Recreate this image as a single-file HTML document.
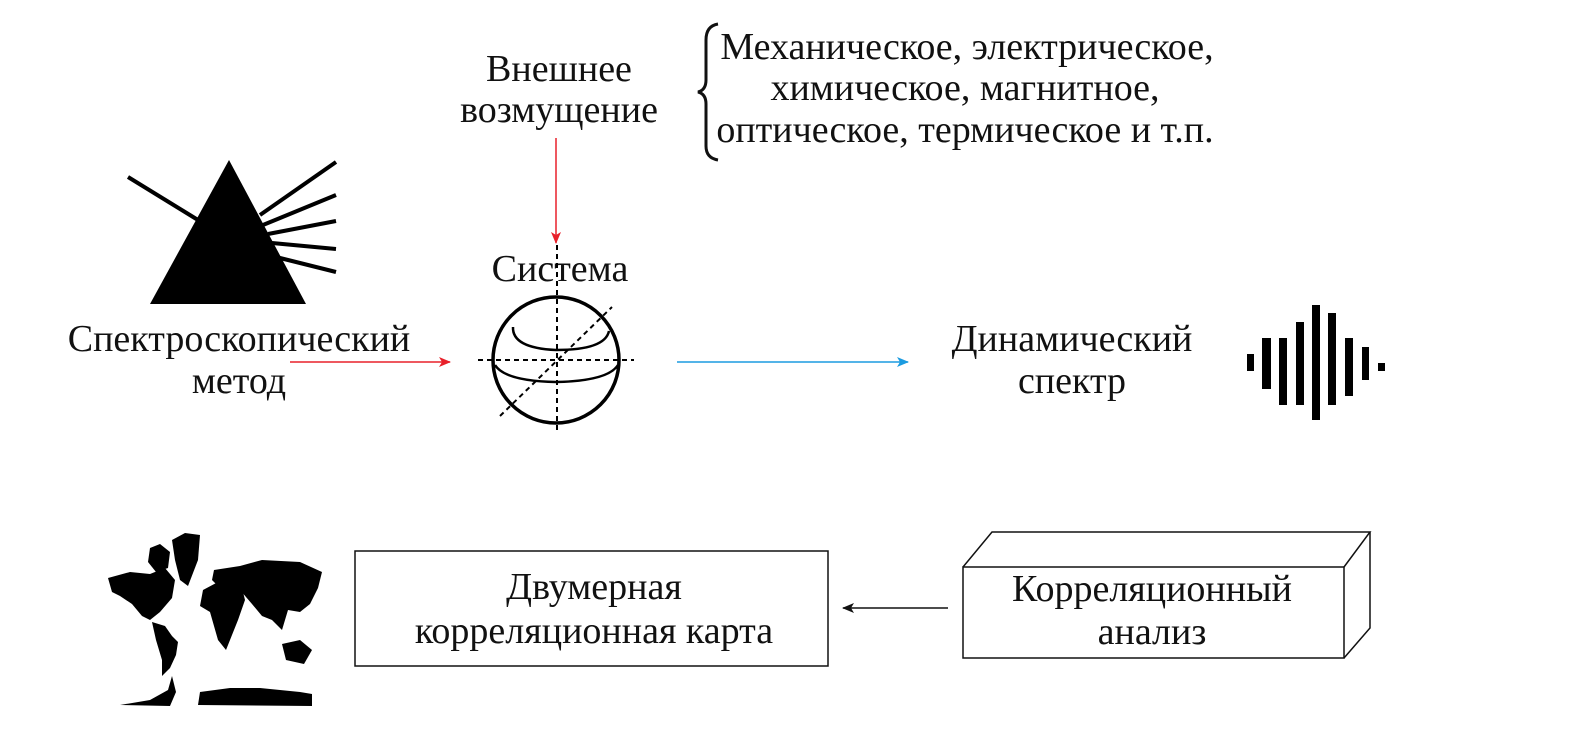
<!DOCTYPE html>
<html><head><meta charset="utf-8"><style>
body{margin:0;background:#fff;}
svg{display:block;}
text{font-family:"Liberation Serif",serif;font-size:38px;fill:#111;}
</style></head><body>
<svg width="1577" height="756" viewBox="0 0 1577 756" xmlns="http://www.w3.org/2000/svg">
<defs>
<marker id="ar" markerWidth="12" markerHeight="10" refX="11" refY="5" orient="auto" markerUnits="userSpaceOnUse"><path d="M0,0 L12,5 L0,10 L3,5 Z" fill="#e8202a"/></marker>
<marker id="ab" markerWidth="12" markerHeight="10" refX="11" refY="5" orient="auto" markerUnits="userSpaceOnUse"><path d="M0,0 L12,5 L0,10 L3,5 Z" fill="#1b9be0"/></marker>
<marker id="ak" markerWidth="12" markerHeight="10" refX="11" refY="5" orient="auto" markerUnits="userSpaceOnUse"><path d="M0,0 L12,5 L0,10 L3,5 Z" fill="#111"/></marker>
</defs>
<g text-anchor="middle">
<text x="559" y="81">Внешнее</text>
<text x="559" y="122">возмущение</text>
<text x="967" y="59">Механическое, электрическое,</text>
<text x="965" y="100">химическое, магнитное,</text>
<text x="965" y="142">оптическое, термическое и т.п.</text>
<text x="560" y="281">Система</text>
<text x="239" y="351">Спектроскопический</text>
<text x="239" y="393">метод</text>
<text x="1072" y="351">Динамический</text>
<text x="1072" y="393">спектр</text>
<text x="594" y="599">Двумерная</text>
<text x="594" y="643">корреляционная карта</text>
<text x="1152" y="601">Корреляционный</text>
<text x="1152" y="644">анализ</text>
</g>
<path d="M718,24 Q706,26 706,40 L706,80 Q706,90 698,92 Q706,94 706,104 L706,146 Q706,158 718,160" fill="none" stroke="#111" stroke-width="3"/>
<line x1="556" y1="138" x2="556" y2="243" stroke="#e8202a" stroke-width="1.5" marker-end="url(#ar)"/>
<line x1="290" y1="362" x2="450" y2="362" stroke="#e8202a" stroke-width="1.5" marker-end="url(#ar)"/>
<line x1="677" y1="362" x2="908" y2="362" stroke="#1b9be0" stroke-width="1.5" marker-end="url(#ab)"/>
<line x1="948" y1="608" x2="843" y2="608" stroke="#111" stroke-width="1.5" marker-end="url(#ak)"/>
<polygon points="229,160 150,304 306,304" fill="#000"/>
<line x1="128" y1="177" x2="198" y2="220" stroke="#000" stroke-width="4"/>
<g stroke="#000" stroke-width="4">
<line x1="260" y1="215" x2="336" y2="162"/>
<line x1="263" y1="225" x2="336" y2="195"/>
<line x1="268" y1="234" x2="336" y2="221"/>
<line x1="272" y1="243" x2="336" y2="249"/>
<line x1="276" y1="257" x2="336" y2="272"/>
</g>
<circle cx="556" cy="360" r="63" fill="none" stroke="#000" stroke-width="3.5"/>
<path d="M513,327 Q512,348 556,350 Q605,350 609,331" fill="none" stroke="#000" stroke-width="2.5"/>
<path d="M495,365 Q505,381 556,382 Q608,381 618,365" fill="none" stroke="#000" stroke-width="2.5"/>
<g stroke="#000" stroke-width="2" stroke-dasharray="5,4">
<line x1="557" y1="245" x2="557" y2="434"/>
<line x1="478" y1="360" x2="634" y2="360"/>
<line x1="500" y1="416" x2="612" y2="307"/>
</g>
<g fill="#000">
<rect x="1247" y="354" width="7" height="17"/>
<rect x="1262" y="338" width="9" height="51"/>
<rect x="1279" y="338" width="8" height="67"/>
<rect x="1296" y="322" width="8" height="83"/>
<rect x="1312" y="305" width="8" height="115"/>
<rect x="1328" y="313" width="8" height="92"/>
<rect x="1345" y="338" width="8" height="58"/>
<rect x="1362" y="347" width="7" height="33"/>
<rect x="1378" y="363" width="7" height="8"/>
</g>
<rect x="355" y="551" width="473" height="115" fill="none" stroke="#111" stroke-width="1.5"/>
<g fill="none" stroke="#111" stroke-width="1.5">
<rect x="963" y="567" width="381" height="91"/>
<polyline points="963,567 992,532 1370,532 1344,567"/>
<polyline points="1370,532 1370,628 1344,658"/>
</g>
<g fill="#000">
<path d="M108,578 L130,572 L150,574 L165,568 L175,580 L172,598 L160,612 L150,620 L142,616 L132,604 L120,596 L112,592 Z"/>
<path d="M150,548 L160,544 L170,552 L168,568 L156,572 L148,562 Z"/>
<path d="M172,540 L185,533 L200,535 L198,560 L188,586 L180,580 L175,560 Z"/>
<path d="M152,622 L165,626 L172,636 L178,642 L176,655 L170,668 L162,676 L162,660 L156,640 Z"/>
<path d="M218,582 L240,580 L245,600 L238,620 L226,650 L218,640 L210,612 L200,606 L203,590 Z"/>
<path d="M214,570 L240,566 L262,560 L300,562 L322,572 L318,588 L310,604 L300,612 L288,610 L282,630 L272,620 L262,616 L252,604 L240,590 L222,590 L212,580 Z"/>
<path d="M282,644 L300,640 L312,650 L304,664 L286,660 Z"/>
<path d="M120,705 L150,700 L168,690 L172,676 L176,692 L170,706 Z"/>
<path d="M198,705 L200,692 L230,688 L260,688 L300,692 L312,694 L312,706 Z"/>
</g>
</svg>
</body></html>
